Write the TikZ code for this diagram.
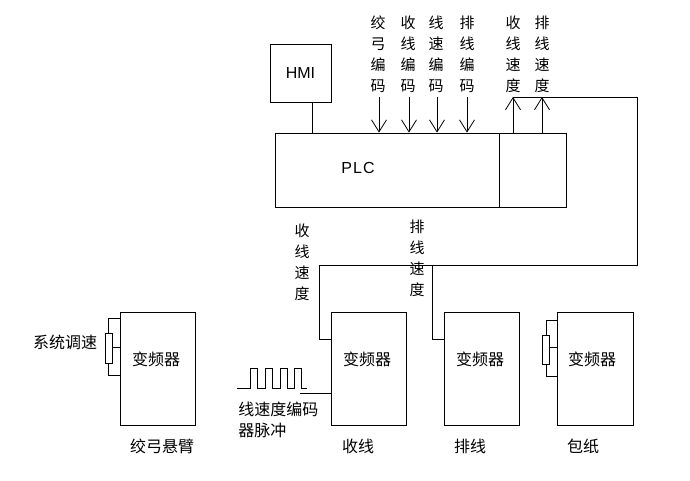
\documentclass[tikz,border=0pt]{standalone}
\usepackage{fontspec}
\setmainfont{Liberation Sans}
\newfontfamily\cjk{Noto Sans CJK SC}
\usetikzlibrary{arrows.meta}
\begin{document}
\begin{tikzpicture}[x=1pt,y=-1pt,line width=0.8pt,
  blk/.style={draw,inner sep=0pt,minimum width=#1},
  vfd/.style={draw,inner sep=0pt,minimum width=75pt,minimum height=113pt},
  vtxt/.style={align=center,inner sep=0pt,font=\cjk\fontsize{15}{21}\selectfont},
  htxt/.style={inner sep=0pt,font=\cjk\fontsize{16}{21}\selectfont},
  sig/.style={-{Straight Barb[length=12pt,width=15pt]}}]
\useasboundingbox (0,0) rectangle (690,480);
% boxes
\node[blk=61pt,minimum height=58pt,font=\fontsize{16}{18}\selectfont] (hmi) at (300.5,73) {HMI};
\node[blk=224pt,minimum height=74pt] (plc) at (387,170) {};
\node[blk=67pt,minimum height=74pt] (plcout) at (532.5,170) {};
\node[inner sep=0pt,font=\fontsize{16}{19}\selectfont] (plctxt) at (358,168) {P\hspace{1pt}L\hspace{1pt}C};
\node[vfd] (jg) at (158,368.5) {};
\node[vfd] (sx) at (368.5,368.5) {};
\node[vfd] (px) at (481.5,368.5) {};
\node[vfd,minimum width=76pt] (bz) at (595,368.5) {};
\node[htxt] (t1) at (156,359) {变频器};
\node[htxt] (t2) at (367,359) {变频器};
\node[htxt] (t3) at (480,359) {变频器};
\node[htxt] (t4) at (592,359) {变频器};
% labels under boxes
\node[htxt] (l1) at (162,446) {绞弓悬臂};
\node[htxt] (l2) at (358,446) {收线};
\node[htxt] (l3) at (470,446) {排线};
\node[htxt] (l4) at (583,446) {包纸};
\node[htxt] (l5) at (65,342) {系统调速};
\node[htxt,anchor=west] (l6) at (238,409) {线速度编码};
\node[htxt,anchor=west] (l7) at (238,430) {器脉冲};
% HMI to PLC
\draw (hmi.south -| 312,0) -- (312,0 |- plc.north);
% input signals
\node[vtxt] (i1) at (378,54) {绞\\弓\\编\\码};
\node[vtxt] (i2) at (408,54) {收\\线\\编\\码};
\node[vtxt] (i3) at (436,54) {线\\速\\编\\码};
\node[vtxt] (i4) at (467,54) {排\\线\\编\\码};
\node[vtxt] (o1) at (513,54) {收\\线\\速\\度};
\node[vtxt] (o2) at (542,54) {排\\线\\速\\度};
\coordinate (a1) at (379,97);
\coordinate (a2) at (409,97);
\coordinate (a3) at (437,97);
\coordinate (a4) at (467,97);
\coordinate (b1) at (513,97);
\coordinate (b2) at (542,97);
\foreach \a in {a1,a2,a3,a4}{\draw[sig] (\a) -- (\a |- plc.north);}
\foreach \b in {b1,b2}{\draw[sig] (\b |- plcout.north) -- (\b);}
% feedback lines
\coordinate (rc) at (637,97);
\coordinate (rb) at (637,265);
\coordinate (sxc) at (319,265);
\coordinate (pxc) at (432,265);
\draw (b1) -- (rc) -- (rb) -- (sxc) -- (319,339) -- (sx.west |- 0,339);
\draw (pxc) -- (432,339) -- (px.west |- 0,339);
\node[vtxt] (m1) at (302,262) {收\\线\\速\\度};
\node[vtxt] (m2) at (417,258) {排\\线\\速\\度};
% potentiometers
\draw (jg.west |- 0,318) -- (108,318) -- (108,375) -- (jg.west |- 0,375);
\draw[fill=white] (105,333) rectangle (112,363);
\draw (112,347) -- (jg.west |- 0,347);
\draw (bz.west |- 0,320) -- (546,320) -- (546,376) -- (bz.west |- 0,376);
\draw[fill=white] (542,335) rectangle (549.5,364);
\draw (549.5,347) -- (bz.west |- 0,347);
% pulse train
\draw (237,388) -- (250,388) -- (250,368) -- (257,368) -- (257,388)
  -- (265,388) -- (265,368) -- (272,368) -- (272,388)
  -- (280,388) -- (280,368) -- (287,368) -- (287,388)
  -- (294,388) -- (294,368) -- (301,368) -- (301,388) -- (307,388);
\draw (300,393) -- (sx.west |- 0,393);
\end{tikzpicture}
\end{document}
